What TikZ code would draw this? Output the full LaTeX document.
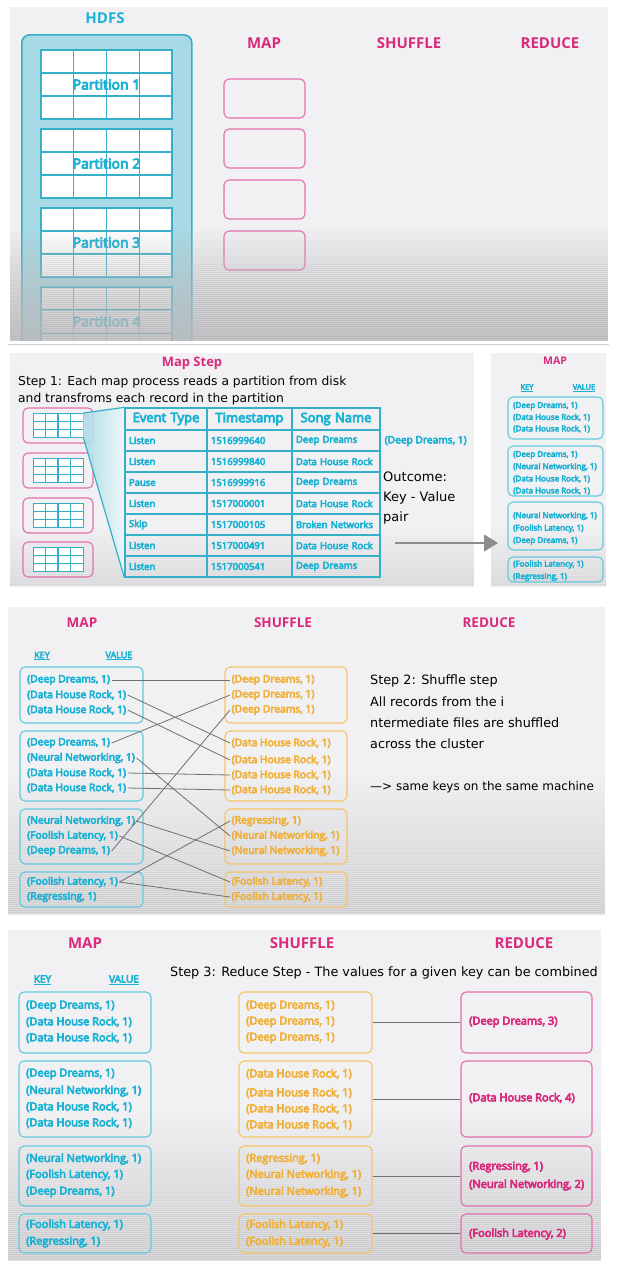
\documentclass[tikz,border=0pt]{standalone}
\usepackage{fontspec}
\setmainfont{Open Sans}
\newfontfamily\kvfont{Open Sans}[FakeBold=6]
\newfontfamily\handfont{DejaVu Sans}
\usetikzlibrary{arrows.meta,calc}
\definecolor{panelbg}{HTML}{F1F0F3}
\definecolor{shadegray}{HTML}{B9B9BC}
\definecolor{cyantxt}{HTML}{1CB2D3}
\definecolor{cyanline}{HTML}{62C9DD}
\definecolor{hdfsfill}{HTML}{A7DAE5}
\definecolor{hdfsline}{HTML}{36B0C9}
\definecolor{pinktxt}{HTML}{D92A7C}
\definecolor{pinkline}{HTML}{E470AA}
\definecolor{orangetxt}{HTML}{F0B03C}
\definecolor{orangeline}{HTML}{F5C565}
\definecolor{linkgray}{HTML}{6F6F72}
\definecolor{arrowgray}{HTML}{8C8C8F}
\newcommand{\kDD}{(Deep Dreams, 1)}
\newcommand{\kDHR}{(Data House Rock, 1)}
\newcommand{\kNN}{(Neural Networking, 1)}
\newcommand{\kFL}{(Foolish Latency, 1)}
\newcommand{\kRG}{(Regressing, 1)}
\begin{document}
\begin{tikzpicture}[x=1pt,y=-1pt,
title/.style={inner sep=0pt,text=pinktxt,font=\bfseries\fontsize{#1}{#1}\selectfont},
hand/.style={anchor=west,inner sep=0pt,font=\handfont\fontsize{#1}{#1}\selectfont},
kv/.style={anchor=west,inner sep=1.5pt,font=\kvfont\fontsize{#1}{#1}\selectfont},
mkv/.style={kv=#1,text=cyantxt},
skv/.style={kv=#1,text=orangetxt},
rkv/.style={kv=#1,text=pinktxt},
keyval/.style={inner sep=0pt,text=cyantxt,font=\kvfont\fontsize{#1}{#1}\selectfont},
cbox/.style={draw=cyanline,line width=1.1pt,rounded corners=5pt,inner sep=0pt},
obox/.style={draw=orangeline,line width=1.1pt,rounded corners=5pt,inner sep=0pt},
pbox/.style={draw=pinkline,line width=1.1pt,rounded corners=5pt,inner sep=0pt},
hdfsbox/.style={draw=hdfsline,fill=hdfsfill,line width=1.6pt,rounded corners=8pt,inner sep=0pt},
link/.style={draw=linkgray,line width=0.8pt},
part/.style={draw=hdfsline,line width=1.3pt,fill=white,inner sep=0pt,text=cyantxt,
  path picture={
    \foreach \f in {0.25,0.5,0.75}
      \draw[hdfsline,line width=1.1pt] ($(path picture bounding box.north west)!\f!(path picture bounding box.north east)$) -- ($(path picture bounding box.south west)!\f!(path picture bounding box.south east)$);
    \foreach \f in {0.3333,0.6667}
      \draw[hdfsline,line width=1.1pt] ($(path picture bounding box.north west)!\f!(path picture bounding box.south west)$) -- ($(path picture bounding box.north east)!\f!(path picture bounding box.south east)$);
  }},
cell/.style={draw=hdfsline,line width=1.3pt,minimum height=21pt,inner xsep=4pt,inner ysep=0pt,text width=#1,align=left,text=cyantxt,font=\kvfont\fontsize{9.5}{10}\selectfont},
head/.style={cell=#1,minimum height=22pt,align=center,font=\kvfont\fontsize{13}{13}\selectfont}]
\useasboundingbox (0,0) rectangle (617,1270);
\fill[white] (0,0) rectangle (617,1270);

% panel 1: HDFS and empty map boxes
\fill[panelbg] (10,7) rectangle (608,340);
\begin{scope}
\clip (10,7) rectangle (608,340);
\node[title=15,text=cyantxt] (hdfst) at (105,18) {HDFS};
\node[hdfsbox,minimum width=170pt,minimum height=330pt,anchor=north west] (hdfs) at (21,34) {};
\foreach \k in {1,...,4}
  \node[part,minimum width=131pt,minimum height=69pt,font=\kvfont\fontsize{14}{14}\selectfont] (p\k) at (106.5,{84.5+79*(\k-1)}) {Partition \k};
\foreach \y [count=\k] in {98.5,148.5,199.5,250.5}
  \node[pbox,minimum width=81pt,minimum height=39pt] (mp\k) at (264.5,\y) {};
\node[title=15] (mapt) at (264,43) {MAP};
\node[title=15] (shuft) at (409,43) {SHUFFLE};
\node[title=15] (redt) at (550,43) {REDUCE};
\foreach \k [evaluate=\k as \op using \k/70] in {0,...,56}
  \fill[shadegray,opacity=\op] (10,{226+2*\k}) rectangle (608,{228.5+2*\k});
\end{scope}

% panel 2: map step
\draw[black!18,line width=1pt] (8,344) -- (609,344);
\fill[panelbg] (10,353) rectangle (474,586);
\fill[panelbg] (491,353) rectangle (606,586);
\foreach \k [evaluate=\k as \op using \k/110] in {0,...,29} {
  \fill[shadegray,opacity=\op] (10,{526+2*\k}) rectangle (474,{528.5+2*\k});
  \fill[shadegray,opacity=\op] (491,{526+2*\k}) rectangle (606,{528.5+2*\k});
}
\node[title=13] (mapstep) at (192,363) {Map Step};
\node[hand=12.3] (st1a) at (18,382) {Step 1: Each map process reads a partition from disk};
\node[hand=12.3] (st1b) at (18,399.5) {and transfroms each record in the partition};
\foreach \y [count=\k] in {425.5,470.5,515.5,559.5} {
  \node[pbox,minimum width=70pt,minimum height=35pt] (pk\k) at (58,\y) {};
  \node[part,minimum width=50pt,minimum height=24pt,line width=1pt] (ic\k) at (58,\y) {};
}
\node[head=74pt] (h1) at (166,419) {Event Type};
\node[head=77pt] (h2) at (249.5,419) {Timestamp};
\node[head=80pt] (h3) at (336,419) {Song Name};
\foreach \ev/\ts/\sg [count=\r] in {Listen/1516999640/Deep Dreams,Listen/1516999840/Data House Rock,
  Pause/1516999916/Deep Dreams,Listen/1517000001/Data House Rock,Skip/1517000105/Broken Networks,
  Listen/1517000491/Data House Rock,Listen/1517000541/Deep Dreams} {
  \node[cell=74pt] (c\r-1) at (166,{419.5+21*\r}) {\ev};
  \node[cell=77pt] (c\r-2) at (249.5,{419.5+21*\r}) {\ts};
  \node[cell=80pt] (c\r-3) at (336,{419.5+21*\r}) {\mbox{\sg}};
}
\shade[left color=hdfsfill,right color=hdfsfill!20,fill opacity=0.85] (ic1.north east) -- (h1.north west) -- (c7-1.south west) -- (ic1.south east) -- cycle;
\draw[hdfsline,line width=1.2pt] (ic1.north east) -- (h1.north west);
\draw[hdfsline,line width=1.2pt] (ic1.south east) -- (c7-1.south west);
\node[mkv=10.2] (ddout) at (383,441) {\kDD};
\node[hand=13] (oc1) at (383,477) {Outcome:};
\node[hand=13] (oc2) at (383,497.5) {Key - Value};
\node[hand=13] (oc3) at (383,518) {pair};
\coordinate (a0) at (395,543);
\coordinate (a1) at (498,543);
\draw[arrowgray,line width=1.3pt,-{Triangle[length=14pt,width=17pt]}] (a0) -- (a1);
\node[title=10.5] (rmap) at (555,361) {MAP};
\node[keyval=7.5] (rkey) at (527,388) {\underline{KEY}};
\node[keyval=7.5] (rval) at (584,388) {\underline{VALUE}};
\node[cbox,minimum width=95pt,minimum height=42pt] (rb1) at (555.5,418) {};
\node[cbox,minimum width=95pt,minimum height=50pt] (rb2) at (555.5,471) {};
\node[cbox,minimum width=95pt,minimum height=48pt] (rb3) at (555.5,526) {};
\node[cbox,minimum width=95pt,minimum height=25pt] (rb4) at (555.5,569.5) {};
\foreach \t/\y [count=\k] in {\kDD/406,\kDHR/417.5,\kDHR/429,\kDD/455,\kNN/467,\kDHR/479,\kDHR/491,
  \kNN/516,\kFL/528.5,\kDD/541,\kFL/564.5,\kRG/577}
  \node[mkv=8] (rt\k) at (511.5,\y) {\t};

% panel 3: shuffle step
\fill[panelbg] (8,607) rectangle (605,913);
\foreach \k [evaluate=\k as \op using \k/180] in {0,...,70}
  \fill[shadegray,opacity=\op] (8,{772+2*\k}) rectangle (605,{774.5+2*\k});
\node[title=13.5] (map3) at (82,623) {MAP};
\node[title=13.5] (shuf3) at (283,623) {SHUFFLE};
\node[title=13.5] (red3) at (489,623) {REDUCE};
\node[keyval=9] (key3) at (42,656) {\underline{KEY}};
\node[keyval=9] (val3) at (119,656) {\underline{VALUE}};
\foreach \y/\h [count=\k] in {695/56,766/70,836.5/55,889.5/35} {
  \node[cbox,minimum width=123pt,minimum height=\h pt] (mb\k) at (81.5,\y) {};
  \node[obox,minimum width=122pt,minimum height=\h pt] (sb\k) at (286,\y) {};
}
\foreach \t/\y/\n in {\kDD/680/m1a,\kDHR/695/m1b,\kDHR/710/m1c,
  \kDD/743/m2a,\kNN/758/m2b,\kDHR/773/m2c,\kDHR/788/m2d,
  \kNN/821/m3a,\kFL/836/m3b,\kDD/851/m3c,\kFL/882/m4a,\kRG/897/m4b}
  \node[mkv=10.3] (\n) at (25.5,\y) {\t};
\foreach \t/\y/\n in {\kDD/680/s1a,\kDD/695/s1b,\kDD/710/s1c,
  \kDHR/743/s2a,\kDHR/760/s2b,\kDHR/775/s2c,\kDHR/790/s2d,
  \kRG/821/s3a,\kNN/836/s3b,\kNN/851/s3c,\kFL/882/s4a,\kFL/897/s4b}
  \node[skv=10.3] (\n) at (230,\y) {\t};
\foreach \a/\b in {m1a/s1a,m1b/s2a,m1c/s2b,m2a/s1b,m2b/s3b,m2c/s2c,m2d/s2d,
  m3a/s3c,m3b/s4a,m3c/s1c,m4a/s3a,m4a/s4b}
  \draw[link] (\a.east) -- (\b.west);
\node[hand=12.8] (st2a) at (370,681) {Step 2: Shuffle step};
\node[hand=12.8] (st2b) at (370,702) {All records from the i};
\node[hand=12.8] (st2c) at (370,723) {ntermediate files are shuffled};
\node[hand=12.8] (st2d) at (370,744) {across the cluster};
\node[hand=12] (st2e) at (370,787) {—> same keys on the same machine};

% panel 4: reduce step
\fill[panelbg] (8,930) rectangle (601,1260);
\foreach \k [evaluate=\k as \op using \k/170] in {0,...,74}
  \fill[shadegray,opacity=\op] (8,{1110+2*\k}) rectangle (601,{1112.5+2*\k});
\node[title=15] (map4) at (85,943) {MAP};
\node[title=15] (shuf4) at (302,943) {SHUFFLE};
\node[title=15] (red4) at (524,943) {REDUCE};
\node[keyval=10] (key4) at (42.5,980) {\underline{KEY}};
\node[keyval=10] (val4) at (124,980) {\underline{VALUE}};
\node[hand=12.8] (st3) at (170,973) {Step 3: Reduce Step - The values for a given key can be combined};
\foreach \y/\h [count=\k] in {1022.5/61,1099/76,1176/60,1233.5/39} {
  \node[cbox,minimum width=132pt,minimum height=\h pt] (qm\k) at (85,\y) {};
  \node[obox,minimum width=133pt,minimum height=\h pt] (qs\k) at (305.5,\y) {};
  \node[pbox,minimum width=131pt,minimum height=\h pt] (qr\k) at (526.5,\y) {};
  \draw[link] (qs\k.east) -- (qr\k.west);
}
\foreach \t/\y [count=\k] in {\kDD/1006,\kDHR/1022,\kDHR/1038,\kDD/1074,\kNN/1091,\kDHR/1107,\kDHR/1123,
  \kNN/1159,\kFL/1175,\kDD/1192,\kFL/1225,\kRG/1242}
  \node[mkv=11] (qa\k) at (24.5,\y) {\t};
\foreach \t/\y [count=\k] in {\kDD/1006,\kDD/1022,\kDD/1038,\kDHR/1074,\kDHR/1093,\kDHR/1109,\kDHR/1125,
  \kRG/1159,\kNN/1175,\kNN/1192,\kFL/1225,\kFL/1242}
  \node[skv=11] (qb\k) at (244.5,\y) {\t};
\node[rkv=11] (qc1) at (467.5,1022) {(Deep Dreams, 3)};
\node[rkv=11] (qc2) at (467.5,1098) {(Data House Rock, 4)};
\node[rkv=11] (qc3) at (467.5,1167) {(Regressing, 1)};
\node[rkv=11] (qc4) at (467.5,1185) {(Neural Networking, 2)};
\node[rkv=11] (qc5) at (467.5,1234) {(Foolish Latency, 2)};
\end{tikzpicture}
\end{document}
